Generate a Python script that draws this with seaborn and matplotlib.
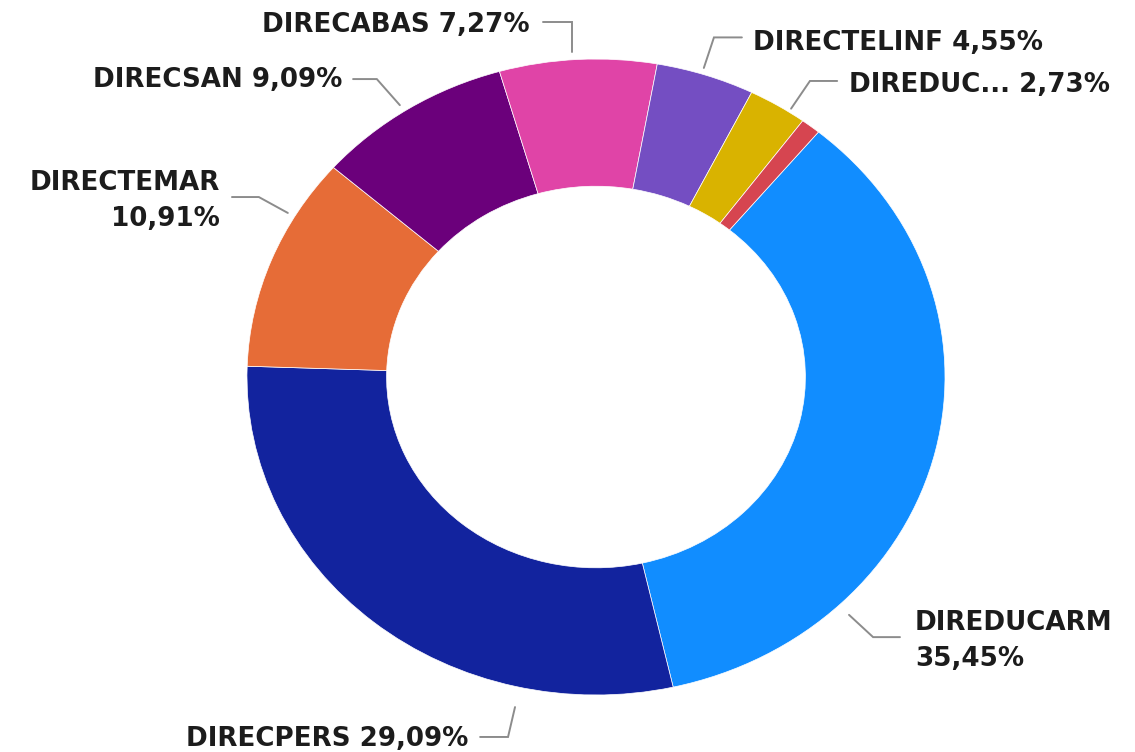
import matplotlib
matplotlib.use('Agg')
import matplotlib.pyplot as plt
import seaborn as sns

# datos del gráfico (orden en sentido horario)
categorias = ['DIREDUCARM', 'DIRECPERS', 'DIRECTEMAR', 'DIRECSAN',
              'DIRECABAS', 'DIRECTELINF', 'DIREDUC...', 'OTRO']
porcentajes = [35.45, 29.09, 10.91, 9.09, 7.27, 4.55, 2.73, 0.91]
colores = ['#118DFF', '#12239E', '#E66C37', '#6B007B',
           '#E044A7', '#744EC2', '#D9B300', '#D64550']
# texto de cada etiqueta (None = sin etiqueta)
etiquetas = ['DIREDUCARM\n35,45%', 'DIRECPERS 29,09%', 'DIRECTEMAR\n10,91%',
             'DIRECSAN 9,09%', 'DIRECABAS 7,27%', 'DIRECTELINF 4,55%',
             'DIREDUC... 2,73%', None]

# disposición de las etiquetas: puntos de la línea guía y posición del texto
guias = {
    'DIREDUCARM': ([(0.725, -0.748), (0.794, -0.818), (0.871, -0.818)], (0.914, -0.830), 'left'),
    'DIRECPERS': ([(-0.232, -1.038), (-0.252, -1.132), (-0.332, -1.132)], (-0.367, -1.137), 'right'),
    'DIRECTEMAR': ([(-0.883, 0.516), (-0.966, 0.566), (-1.043, 0.566)], (-1.077, 0.555), 'right'),
    'DIRECSAN': ([(-0.562, 0.855), (-0.628, 0.937), (-0.696, 0.937)], (-0.728, 0.934), 'right'),
    'DIRECABAS': ([(-0.069, 1.022), (-0.069, 1.116), (-0.152, 1.116)], (-0.189, 1.107), 'right'),
    'DIRECTELINF': ([(0.309, 0.972), (0.338, 1.068), (0.418, 1.068)], (0.451, 1.051), 'left'),
    'DIREDUC...': ([(0.559, 0.844), (0.613, 0.931), (0.691, 0.931)], (0.725, 0.918), 'left'),
}

sns.set_theme(style='white')
plt.rcParams['font.family'] = ['DejaVu Sans']

fig = plt.figure(figsize=(11.35, 7.52), dpi=100)
# ejes estirados para reproducir la elipse del original
ax = fig.add_axes([0.2176, 0.0758, 0.615, 0.8457])
ax.pie(porcentajes, colors=colores, startangle=50.4, counterclock=False,
       radius=1.0, wedgeprops=dict(width=0.4, edgecolor='white', linewidth=0.5))
ax.set_aspect('auto')
ax.set_xlim(-1, 1)
ax.set_ylim(-1, 1)
ax.axis('off')

for cat, txt in zip(categorias, etiquetas):
    if txt is None:
        continue
    puntos, pos_txt, alin = guias[cat]
    xs = [p[0] for p in puntos]
    ys = [p[1] for p in puntos]
    ax.plot(xs, ys, color='#8c8c8c', lw=1.4, clip_on=False, solid_joinstyle='miter')
    ax.text(pos_txt[0], pos_txt[1], txt, ha=alin, va='center', fontsize=18.8,
            fontweight='bold', color='#1c1c1c', linespacing=1.5,
            multialignment=alin, clip_on=False)

plt.savefig('out.png', dpi=100, facecolor='white')
